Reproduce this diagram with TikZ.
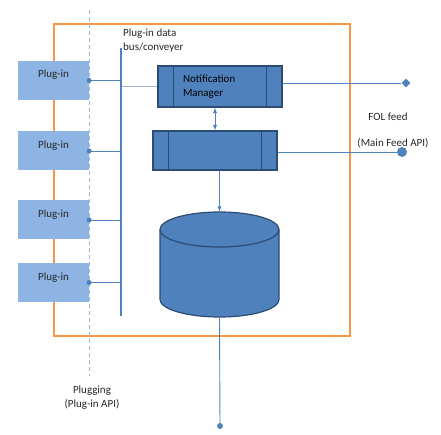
\documentclass[tikz,border=0pt]{standalone}
\usepackage{fontspec}
\setmainfont{Carlito}
\usetikzlibrary{arrows,shapes.geometric,positioning}
\definecolor{plugblue}{HTML}{8EB4E3}
\definecolor{boxblue}{HTML}{4F81BD}
\definecolor{boxedge}{HTML}{2C4C74}
\definecolor{lineblue}{HTML}{4F81BD}
\definecolor{paleblue}{HTML}{9BB9DC}
\definecolor{frameorange}{HTML}{F79646}
\definecolor{txt}{HTML}{262626}
\tikzset{
     plugin/.style={fill=plugblue, rectangle, minimum width=71pt, minimum height=39pt,
       inner sep=0pt, text height=7pt, text depth=12pt, text=txt},
     module/.style={fill=boxblue, draw=boxedge, line width=1.2pt, rectangle, inner sep=0pt},
     store/.style={rectangle, minimum width=119pt, minimum height=105pt, inner sep=0pt},
     wire/.style={draw=lineblue, line width=0.9pt},
     dot/.style={circle, fill=lineblue, inner sep=0pt, minimum size=#1},
     lbl/.style={text=txt, inner sep=0pt},
}
\tikzset{>=latex}

\begin{document}
\begin{tikzpicture}[x=1pt,y=-1pt, font=\fontsize{11}{14}\selectfont]
		\useasboundingbox (0,0) rectangle (441,435);

		% core frame
		\draw[frameorange, line width=1.6pt] (54,24) rectangle (350,336);

		\foreach \y/\i in {80.5/1,151/2,220/3,282.5/4}{
			\node[plugin] (p\i) at (53.5,\y) {Plug-in};
		}
		\draw[paleblue, line width=1pt, dash pattern=on 4pt off 3pt] (89,10) -- (89,376);

		\coordinate (bustop) at (121,48);
		\coordinate (busbot) at (121,316);
		\node[lbl, anchor=west, align=left] (buslbl) at (123,41) {Plug-in data\\bus/conveyer};

		\node[module, minimum width=124pt, minimum height=41pt, text width=74pt, align=left]
			(nm) at (220,86.5) {Notification\\Manager};
		\node[module, minimum width=124pt, minimum height=39pt] (proc) at (215,150.5) {};
		\foreach \m in {nm,proc}{
			\draw[boxedge, line width=1.2pt] ([xshift=16pt]\m.north west) -- ([xshift=16pt]\m.south west);
			\draw[boxedge, line width=1.2pt] ([xshift=-16pt]\m.north east) -- ([xshift=-16pt]\m.south east);
		}

		% data store
		\node[store] (db) at (219.5,264.5) {};
		\begin{scope}[shift={(db.center)}, x=1pt, y=1pt]
			\filldraw[fill=boxblue, draw=boxedge, line width=1.2pt] (-59.5,35) -- (-59.5,-35)
				arc[start angle=180, end angle=360, x radius=59.5, y radius=17.5] -- (59.5,35)
				arc[start angle=0, end angle=180, x radius=59.5, y radius=17.5] -- cycle;
			\draw[boxedge, line width=1.2pt] (-59.5,35)
				arc[start angle=180, end angle=360, x radius=59.5, y radius=17.5];
		\end{scope}

		\node[diamond, fill=lineblue, inner sep=0pt, minimum size=9pt] (fol) at (406,83) {};
		\node[dot=10pt] (feed) at (402,152) {};
		\coordinate (api) at (220,426);

		\draw[wire] (fol -| nm.east) -- (fol);
		\draw[wire] (feed -| proc.east) -- (feed);
		\draw[wire, <->] (nm.south -| proc.north) -- (proc.north);
		\draw[wire, ->] (proc.south -| db.north) -- (db.north);
		\draw[wire] (db.south) -- (api);
		\node[dot=6pt] (apidot) at (api) {};
		\draw[paleblue, line width=1pt] (nm.west -| bustop) -- (nm.west);

		\foreach \i in {1,...,4}{
			\draw[wire] (p\i.east) -- (p\i.east -| bustop);
			\node[dot=5pt] (d\i) at (p\i.east) {};
		}
		\draw[lineblue, line width=1.6pt] (bustop) -- (busbot);

		\node[lbl] (follbl) at (388,117) {FOL feed};
		\node[lbl] (mainlbl) at (393,143) {(Main Feed API)};
		\node[lbl, align=center] (pluglbl) at (92,397.5) {Plugging\\(Plug-in API)};
\end{tikzpicture}
\end{document}
